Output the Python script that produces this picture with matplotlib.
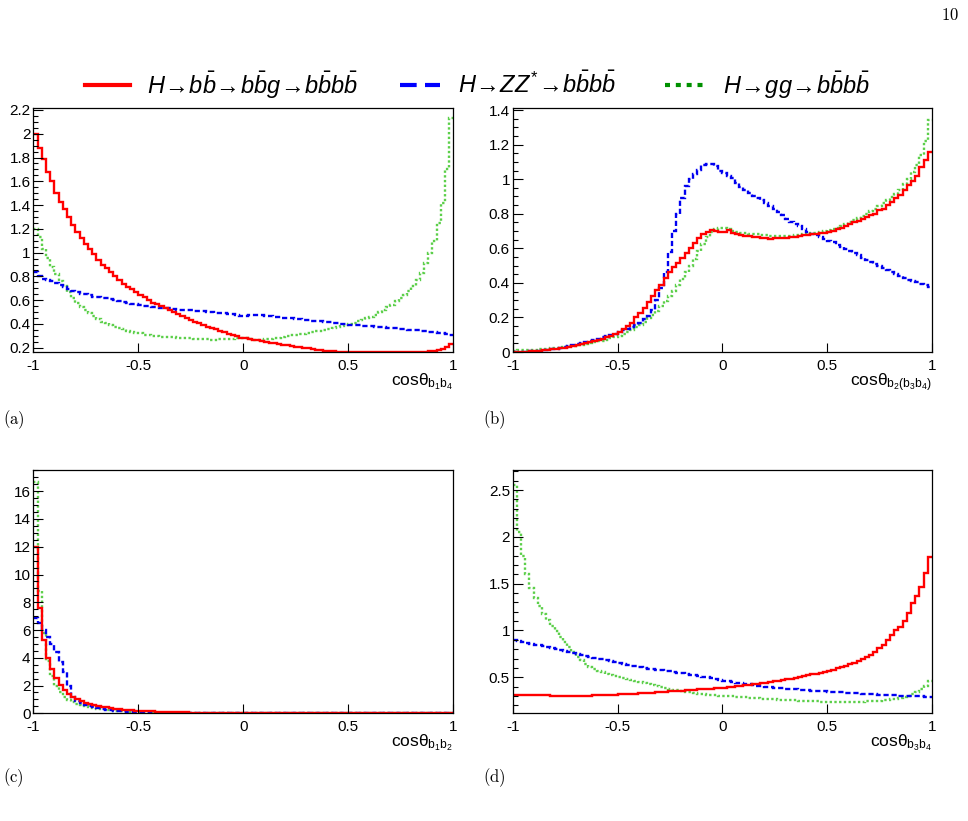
import numpy as np
import matplotlib
matplotlib.use('Agg')
import matplotlib.pyplot as plt
from matplotlib.lines import Line2D
from matplotlib.ticker import MultipleLocator, FuncFormatter

plt.rcParams['font.family'] = ['Liberation Sans', 'DejaVu Sans']
plt.rcParams['mathtext.fontset'] = 'custom'
plt.rcParams['mathtext.it'] = 'Liberation Sans:italic'
plt.rcParams['mathtext.rm'] = 'Liberation Sans'
plt.rcParams['axes.unicode_minus'] = False

# 100 bins in cos(theta), -1 .. 1
edges = np.linspace(-1, 1, 101)

# (a) cos theta_{b1 b4}
bb_a = [2.00, 1.88, 1.79, 1.68, 1.60, 1.50, 1.43, 1.37, 1.30, 1.23,
        1.17, 1.12, 1.07, 1.03, 0.99, 0.94, 0.90, 0.87, 0.84, 0.80,
        0.77, 0.74, 0.71, 0.69, 0.67, 0.645, 0.625, 0.60, 0.58, 0.565,
        0.55, 0.535, 0.52, 0.50, 0.48, 0.465, 0.45, 0.435, 0.42, 0.405,
        0.39, 0.378, 0.366, 0.355, 0.343, 0.33, 0.318, 0.305, 0.295, 0.285,
        0.28, 0.275, 0.268, 0.262, 0.255, 0.25, 0.243, 0.238, 0.232, 0.226,
        0.22, 0.215, 0.21, 0.205, 0.2, 0.196, 0.19, 0.185, 0.18, 0.176,
        0.172, 0.169, 0.166, 0.166, 0.166, 0.166, 0.166, 0.166, 0.166, 0.166,
        0.166, 0.166, 0.166, 0.166, 0.166, 0.166, 0.166, 0.166, 0.166, 0.166,
        0.166, 0.166, 0.166, 0.166, 0.17, 0.175, 0.18, 0.19, 0.205, 0.23]
zz_a = [0.84, 0.80, 0.78, 0.77, 0.76, 0.745, 0.725, 0.71, 0.69, 0.68,
        0.665, 0.655, 0.65, 0.64, 0.63, 0.625, 0.62, 0.615, 0.61, 0.605,
        0.595, 0.585, 0.575, 0.57, 0.565, 0.56, 0.555, 0.55, 0.545, 0.54,
        0.535, 0.535, 0.53, 0.525, 0.52, 0.515, 0.52, 0.515, 0.51, 0.51,
        0.505, 0.50, 0.50, 0.495, 0.49, 0.49, 0.485, 0.48, 0.475, 0.47,
        0.47, 0.472, 0.475, 0.477, 0.475, 0.47, 0.465, 0.46, 0.457, 0.453,
        0.45, 0.446, 0.443, 0.44, 0.436, 0.432, 0.428, 0.425, 0.421, 0.418,
        0.414, 0.41, 0.406, 0.402, 0.398, 0.395, 0.392, 0.389, 0.386, 0.383,
        0.38, 0.377, 0.374, 0.371, 0.368, 0.365, 0.362, 0.358, 0.355, 0.353,
        0.35, 0.346, 0.342, 0.338, 0.334, 0.33, 0.325, 0.32, 0.315, 0.31]
gg_a = [1.20, 1.13, 1.03, 0.955, 0.875, 0.82, 0.76, 0.72, 0.665, 0.615,
        0.58, 0.545, 0.52, 0.49, 0.465, 0.44, 0.42, 0.405, 0.39, 0.375,
        0.365, 0.355, 0.34, 0.335, 0.325, 0.32, 0.31, 0.305, 0.30, 0.295,
        0.292, 0.29, 0.288, 0.286, 0.285, 0.283, 0.28, 0.278, 0.275, 0.272,
        0.27, 0.27, 0.268, 0.268, 0.27, 0.27, 0.272, 0.275, 0.278, 0.28,
        0.278, 0.272, 0.268, 0.266, 0.268, 0.27, 0.275, 0.28, 0.285, 0.292,
        0.297, 0.303, 0.308, 0.313, 0.318, 0.323, 0.33, 0.337, 0.343, 0.35,
        0.358, 0.365, 0.374, 0.382, 0.39, 0.398, 0.41, 0.422, 0.435, 0.448,
        0.46, 0.478, 0.50, 0.52, 0.54, 0.56, 0.59, 0.62, 0.645, 0.68,
        0.72, 0.77, 0.825, 0.91, 1.00, 1.10, 1.25, 1.42, 1.70, 2.13]

# (b) cos theta_{b2 (b3 b4)}
bb_b = [0.0, 0.0, 0.001, 0.002, 0.003, 0.005, 0.007, 0.009, 0.012, 0.015,
        0.018, 0.021, 0.025, 0.03, 0.034, 0.039, 0.045, 0.051, 0.057, 0.064,
        0.07, 0.078, 0.085, 0.095, 0.105, 0.118, 0.135, 0.15, 0.168, 0.20,
        0.225, 0.255, 0.29, 0.325, 0.36, 0.39, 0.43, 0.465, 0.49, 0.515,
        0.545, 0.57, 0.60, 0.63, 0.66, 0.68, 0.695, 0.705, 0.70, 0.695,
        0.695, 0.705, 0.69, 0.68, 0.675, 0.672, 0.67, 0.668, 0.665, 0.66,
        0.658, 0.655, 0.66, 0.66, 0.66, 0.662, 0.665, 0.668, 0.67, 0.675,
        0.678, 0.68, 0.683, 0.687, 0.69, 0.695, 0.70, 0.71, 0.72, 0.73,
        0.74, 0.75, 0.76, 0.77, 0.78, 0.79, 0.80, 0.82, 0.83, 0.85,
        0.87, 0.89, 0.91, 0.935, 0.965, 0.99, 1.02, 1.07, 1.11, 1.16]
zz_b = [0.0, 0.0, 0.001, 0.002, 0.003, 0.005, 0.007, 0.009, 0.012, 0.016,
        0.02, 0.025, 0.03, 0.036, 0.042, 0.048, 0.054, 0.06, 0.066, 0.072,
        0.078, 0.085, 0.092, 0.10, 0.107, 0.115, 0.125, 0.133, 0.142, 0.155,
        0.17, 0.19, 0.21, 0.245, 0.30, 0.37, 0.46, 0.58, 0.70, 0.80,
        0.89, 0.96, 1.0, 1.03, 1.055, 1.08, 1.09, 1.085, 1.075, 1.05,
        1.035, 1.02, 1.005, 0.98, 0.955, 0.935, 0.92, 0.905, 0.89, 0.877,
        0.862, 0.845, 0.83, 0.81, 0.79, 0.77, 0.752, 0.74, 0.727, 0.71,
        0.695, 0.685, 0.678, 0.665, 0.655, 0.645, 0.635, 0.62, 0.61, 0.597,
        0.583, 0.57, 0.56, 0.545, 0.535, 0.522, 0.51, 0.498, 0.488, 0.475,
        0.462, 0.45, 0.438, 0.428, 0.418, 0.41, 0.403, 0.395, 0.388, 0.377]
gg_b = [0.008, 0.009, 0.01, 0.011, 0.012, 0.014, 0.015, 0.017, 0.019, 0.021,
        0.024, 0.027, 0.03, 0.033, 0.036, 0.04, 0.043, 0.047, 0.051, 0.056,
        0.061, 0.066, 0.072, 0.079, 0.087, 0.095, 0.105, 0.117, 0.13, 0.143,
        0.158, 0.175, 0.195, 0.215, 0.24, 0.265, 0.295, 0.325, 0.355, 0.39,
        0.425, 0.46, 0.50, 0.54, 0.585, 0.625, 0.665, 0.695, 0.71, 0.72,
        0.72, 0.71, 0.70, 0.695, 0.69, 0.688, 0.685, 0.683, 0.68, 0.678,
        0.676, 0.674, 0.672, 0.67, 0.67, 0.67, 0.672, 0.675, 0.678, 0.68,
        0.683, 0.686, 0.69, 0.695, 0.70, 0.705, 0.71, 0.72, 0.73, 0.74,
        0.75, 0.762, 0.775, 0.788, 0.80, 0.815, 0.83, 0.845, 0.86, 0.878,
        0.895, 0.915, 0.94, 0.97, 1.0, 1.04, 1.08, 1.14, 1.22, 1.34]

# (c) cos theta_{b1 b2}
bb_c = [12.0, 7.6, 5.3, 4.0, 3.2, 2.55, 2.05, 1.7, 1.42, 1.2,
        1.02, 0.88, 0.77, 0.68, 0.6, 0.53, 0.47, 0.42, 0.37, 0.33,
        0.3, 0.27, 0.24, 0.22, 0.2, 0.18, 0.165, 0.15, 0.135, 0.12,
        0.11, 0.1, 0.09, 0.082, 0.075, 0.068, 0.062, 0.056, 0.051, 0.047,
        0.043, 0.04, 0.037, 0.034, 0.031, 0.029, 0.027, 0.025, 0.023, 0.022,
        0.021, 0.02, 0.019, 0.019, 0.018, 0.018, 0.017, 0.017, 0.016, 0.016,
        0.015, 0.015, 0.015, 0.014, 0.014, 0.014, 0.013, 0.013, 0.013, 0.013,
        0.012, 0.012, 0.012, 0.012, 0.012, 0.011, 0.011, 0.011, 0.011, 0.011,
        0.011, 0.011, 0.011, 0.011, 0.011, 0.011, 0.012, 0.012, 0.012, 0.012,
        0.013, 0.013, 0.013, 0.014, 0.014, 0.015, 0.016, 0.017, 0.018, 0.02]
zz_c = [6.9, 6.5, 6.0, 5.5, 5.0, 4.4, 3.7, 3.0, 2.0, 1.2,
        0.9, 0.75, 0.62, 0.52, 0.44, 0.37, 0.31, 0.26, 0.22, 0.19,
        0.16, 0.14, 0.12, 0.1, 0.09, 0.08, 0.07, 0.06, 0.055, 0.05,
        0.045, 0.041, 0.037, 0.034, 0.031, 0.028, 0.026, 0.024, 0.022, 0.02,
        0.019, 0.018, 0.017, 0.016, 0.015, 0.014, 0.014, 0.013, 0.013, 0.012,
        0.012, 0.012, 0.011, 0.011, 0.011, 0.011, 0.01, 0.01, 0.01, 0.01,
        0.01, 0.01, 0.01, 0.01, 0.01, 0.01, 0.01, 0.01, 0.01, 0.01,
        0.01, 0.01, 0.01, 0.01, 0.01, 0.01, 0.01, 0.01, 0.01, 0.01,
        0.01, 0.01, 0.01, 0.01, 0.01, 0.01, 0.01, 0.01, 0.01, 0.01,
        0.01, 0.01, 0.01, 0.01, 0.01, 0.01, 0.01, 0.01, 0.01, 0.01]
gg_c = [16.7, 8.8, 5.8, 3.8, 2.7, 2.0, 1.5, 1.15, 0.95, 0.82,
        0.7, 0.6, 0.52, 0.45, 0.39, 0.34, 0.29, 0.25, 0.22, 0.19,
        0.16, 0.14, 0.12, 0.105, 0.09, 0.08, 0.07, 0.062, 0.055, 0.049,
        0.044, 0.04, 0.036, 0.033, 0.03, 0.027, 0.025, 0.023, 0.021, 0.02,
        0.019, 0.018, 0.017, 0.016, 0.015, 0.014, 0.014, 0.013, 0.013, 0.012,
        0.012, 0.012, 0.012, 0.011, 0.011, 0.011, 0.011, 0.011, 0.011, 0.011,
        0.011, 0.011, 0.011, 0.011, 0.011, 0.011, 0.011, 0.011, 0.011, 0.011,
        0.011, 0.011, 0.011, 0.011, 0.011, 0.011, 0.011, 0.011, 0.011, 0.011,
        0.011, 0.011, 0.012, 0.012, 0.012, 0.012, 0.012, 0.013, 0.013, 0.013,
        0.014, 0.014, 0.015, 0.016, 0.017, 0.018, 0.02, 0.022, 0.025, 0.03]

# (d) cos theta_{b3 b4}
bb_d = [0.315, 0.313, 0.312, 0.311, 0.31, 0.309, 0.308, 0.307, 0.306, 0.305,
        0.305, 0.304, 0.303, 0.302, 0.302, 0.303, 0.303, 0.304, 0.305, 0.306,
        0.307, 0.308, 0.31, 0.312, 0.314, 0.316, 0.318, 0.32, 0.322, 0.325,
        0.328, 0.331, 0.334, 0.337, 0.34, 0.343, 0.346, 0.349, 0.352, 0.355,
        0.358, 0.361, 0.364, 0.367, 0.37, 0.373, 0.376, 0.38, 0.384, 0.388,
        0.39, 0.395, 0.40, 0.405, 0.41, 0.415, 0.42, 0.425, 0.43, 0.435,
        0.442, 0.448, 0.455, 0.462, 0.47, 0.478, 0.486, 0.494, 0.502, 0.51,
        0.52, 0.53, 0.54, 0.55, 0.56, 0.57, 0.58, 0.595, 0.61, 0.625,
        0.64, 0.655, 0.67, 0.69, 0.715, 0.74, 0.775, 0.81, 0.85, 0.9,
        0.95, 1.0, 1.04, 1.1, 1.19, 1.29, 1.37, 1.47, 1.61, 1.78]
zz_d = [0.90, 0.89, 0.88, 0.87, 0.86, 0.85, 0.84, 0.83, 0.82, 0.81,
        0.80, 0.79, 0.78, 0.77, 0.76, 0.75, 0.74, 0.73, 0.72, 0.71,
        0.70, 0.69, 0.68, 0.67, 0.66, 0.65, 0.64, 0.632, 0.624, 0.616,
        0.608, 0.60, 0.593, 0.586, 0.58, 0.574, 0.568, 0.562, 0.556, 0.55,
        0.543, 0.535, 0.527, 0.52, 0.512, 0.505, 0.498, 0.49, 0.482, 0.472,
        0.462, 0.455, 0.448, 0.442, 0.436, 0.43, 0.424, 0.418, 0.412, 0.406,
        0.40, 0.395, 0.39, 0.386, 0.382, 0.378, 0.374, 0.37, 0.366, 0.363,
        0.36, 0.357, 0.354, 0.351, 0.348, 0.345, 0.342, 0.34, 0.338, 0.335,
        0.332, 0.33, 0.328, 0.325, 0.322, 0.32, 0.318, 0.315, 0.313, 0.311,
        0.309, 0.307, 0.305, 0.303, 0.301, 0.30, 0.298, 0.295, 0.292, 0.288]
gg_d = [2.55, 2.05, 1.8, 1.6, 1.45, 1.35, 1.26, 1.18, 1.11, 1.05,
        0.99, 0.93, 0.88, 0.82, 0.77, 0.72, 0.68, 0.645, 0.615, 0.59,
        0.57, 0.555, 0.54, 0.525, 0.51, 0.50, 0.488, 0.477, 0.466, 0.456,
        0.446, 0.436, 0.426, 0.416, 0.405, 0.395, 0.386, 0.377, 0.368, 0.36,
        0.352, 0.345, 0.338, 0.331, 0.325, 0.32, 0.315, 0.31, 0.306, 0.302,
        0.30, 0.298, 0.295, 0.292, 0.288, 0.285, 0.282, 0.279, 0.276, 0.273,
        0.27, 0.267, 0.264, 0.261, 0.258, 0.256, 0.254, 0.252, 0.25, 0.248,
        0.246, 0.244, 0.242, 0.24, 0.238, 0.237, 0.236, 0.235, 0.235, 0.235,
        0.236, 0.237, 0.238, 0.24, 0.242, 0.244, 0.247, 0.25, 0.254, 0.258,
        0.263, 0.27, 0.28, 0.29, 0.305, 0.32, 0.34, 0.37, 0.41, 0.46]

xlabels = [r'cosθ$_{\mathrm{b}_{1}\mathrm{b}_{4}}$',
           r'cosθ$_{\mathrm{b}_{2}(\mathrm{b}_{3}\mathrm{b}_{4})}$',
           r'cosθ$_{\mathrm{b}_{1}\mathrm{b}_{2}}$',
           r'cosθ$_{\mathrm{b}_{3}\mathrm{b}_{4}}$']
tags = ['(a)', '(b)', '(c)', '(d)']
legend_labels = [r'$H\!\rightarrow\! b\bar{b}\!\rightarrow\! b\bar{b}g\!\rightarrow\! b\bar{b}b\bar{b}$',
                 r'$H\!\rightarrow\! ZZ^{*}\!\rightarrow\! b\bar{b}b\bar{b}$',
                 r'$H\!\rightarrow\! gg\!\rightarrow\! b\bar{b}b\bar{b}$']

W, H = 968, 821
fig = plt.figure(figsize=(W / 100, H / 100), dpi=100)

red, blue, green = '#ff0000', '#0000f0', '#5ccf4a'

panels = [
    ([33.4, 108.3, 420, 243.7], bb_a, zz_a, gg_a, (0.164, 2.214), 0.2, 0.05),
    ([512.7, 108.3, 419.3, 243.7], bb_b, zz_b, gg_b, (0.0, 1.41), 0.2, 0.05),
    ([33.4, 470, 420, 243.3], bb_c, zz_c, gg_c, (0.0, 17.53), 2, 0.5),
    ([512.7, 470, 419.3, 243.3], bb_d, zz_d, gg_d, (0.115, 2.715), 0.5, 0.1),
]

fmt = FuncFormatter(lambda v, p: '%g' % round(v, 6))

for k, (r, bb, zz, gg, ylim, maj, mnr) in enumerate(panels):
    x0, y0, w, h = r
    ax = fig.add_axes([x0 / W, 1 - (y0 + h) / H, w / W, h / H])
    ax.stairs(gg, edges, baseline=None, color=green, lw=1.7, linestyle=(0, (1.0, 1.0)))
    ax.stairs(zz, edges, baseline=None, color=blue, lw=1.7, linestyle=(0, (2.2, 1.2)))
    ax.stairs(bb, edges, baseline=None, color=red, lw=1.7)
    ax.set_xlim(-1, 1)
    ax.set_ylim(*ylim)
    ax.xaxis.set_major_locator(MultipleLocator(0.5))
    ax.yaxis.set_major_locator(MultipleLocator(maj))
    ax.yaxis.set_minor_locator(MultipleLocator(mnr))
    ax.xaxis.set_major_formatter(fmt)
    ax.yaxis.set_major_formatter(fmt)
    ax.tick_params(axis='y', which='major', direction='in', length=7.2, width=0.8,
                   pad=2, labelsize=11)
    ax.tick_params(axis='y', which='minor', direction='in', length=3.6, width=0.8)
    ax.tick_params(axis='x', which='major', direction='in', length=6.3, width=0.8,
                   pad=5, labelsize=11)
    for s in ax.spines.values():
        s.set_linewidth(0.9)
    ax.text(1.0, -0.078, xlabels[k], transform=ax.transAxes, ha='right', va='top',
            fontsize=12.5)
    ty = 420 if k < 2 else 778
    tx = 3 if k % 2 == 0 else 483
    fig.text(tx / W, 1 - ty / H, r'$\mathrm{' + tags[k] + '}$', math_fontfamily='cm',
             fontsize=12, ha='left', va='center')

# legend row on top
ly = 1 - 85 / H
handles = [
    ([85, 130], '#ff0000', '-'),
    ([400, 440], '#0000ff', (0, (4, 2))),
    ([665, 705], '#009000', (0, (1.2, 1.4))),
]
for xs, c, ls in handles:
    fig.add_artist(Line2D([xs[0] / W, xs[1] / W], [ly, ly], transform=fig.transFigure,
                          color=c, lw=3, linestyle=ls))
for tx, lab in zip([147, 458, 723], legend_labels):
    fig.text(tx / W, ly, lab, fontsize=17, ha='left', va='center')

fig.text(950 / W, 1 - 15 / H, r'$10$', math_fontfamily='cm', fontsize=12,
         ha='center', va='center')

fig.savefig('out.png', dpi=100)
